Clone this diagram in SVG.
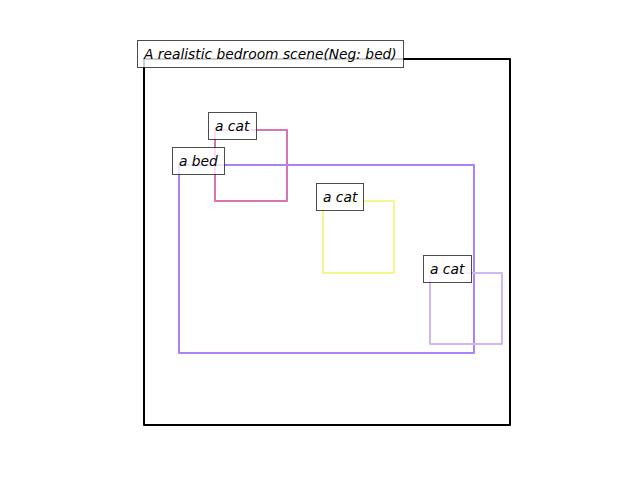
<svg xmlns="http://www.w3.org/2000/svg" width="640" height="480" viewBox="0 0 640 480">
<style>
.box{fill:none;stroke-width:2;stroke-linejoin:round}
.lbl rect{fill:#fff;fill-opacity:0.8;stroke:#000;stroke-opacity:0.7;stroke-width:1}
.lbl text{font-family:"DejaVu Sans",sans-serif;font-style:italic;font-size:13.8px;fill:#000}
</style>
<rect width="640" height="480" fill="#fff"/>
<g id="frame"><rect class="box" x="144" y="59" width="366" height="366" stroke="#000"/></g>
<g id="cat1"><rect class="box" x="215" y="130" width="72" height="71" stroke="#d774b2"/></g>
<g id="bed"><rect class="box" x="179" y="165" width="295" height="188" stroke="#ab82f8"/></g>
<g id="cat2"><rect class="box" x="323" y="201" width="71" height="72" stroke="#f6f690"/></g>
<g id="cat3"><rect class="box" x="430" y="273" width="72" height="71" stroke="#cfb7f6"/></g>
<g id="connectors"></g>
<g id="labels">
<g id="title" class="lbl"><rect x="137.5" y="40.5" width="266" height="27"/><text x="144" y="58.5">A realistic bedroom scene(Neg: bed)</text></g>
<g id="lbl-cat1" class="lbl"><rect x="208.5" y="112.5" width="48" height="27"/><text x="215" y="130.5">a cat</text></g>
<g id="lbl-bed" class="lbl"><rect x="172.5" y="147.5" width="52" height="27"/><text x="179" y="165.5">a bed</text></g>
<g id="lbl-cat2" class="lbl"><rect x="316.5" y="183.5" width="47" height="27"/><text x="323" y="201.5">a cat</text></g>
<g id="lbl-cat3" class="lbl"><rect x="423.5" y="255.5" width="48" height="27"/><text x="430" y="273.5">a cat</text></g>
</g>
</svg>
